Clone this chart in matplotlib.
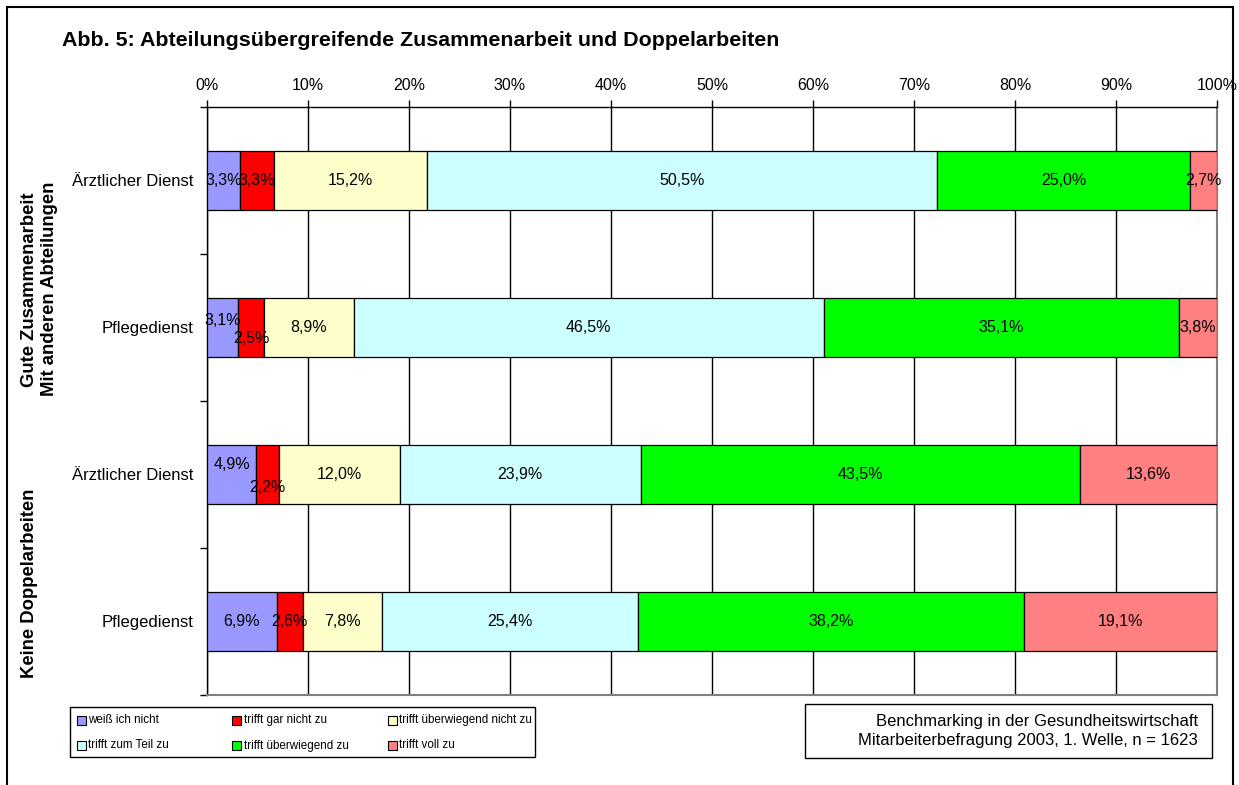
import matplotlib.pyplot as plt
from matplotlib.patches import Rectangle
from matplotlib.transforms import blended_transform_factory
import numpy as np

plt.rcParams['font.family'] = ['Liberation Sans', 'DejaVu Sans']

rows = ['Ärztlicher Dienst', 'Pflegedienst', 'Ärztlicher Dienst', 'Pflegedienst']
groups = ['Gute Zusammenarbeit\nMit anderen Abteilungen', 'Keine Doppelarbeiten']
answers = ['weiß ich nicht', 'trifft gar nicht zu', 'trifft überwiegend nicht zu',
           'trifft zum Teil zu', 'trifft überwiegend zu', 'trifft voll zu']
colors = ['#9999FF', '#FF0000', '#FFFFCC', '#CCFFFF', '#00FF00', '#FF8080']

# percent per row, one list per answer
weiss = [3.3, 3.1, 4.9, 6.9]
gar_nicht = [3.3, 2.5, 2.2, 2.6]
ueberw_nicht = [15.2, 8.9, 12.0, 7.8]
zum_teil = [50.5, 46.5, 23.9, 25.4]
ueberw_zu = [25.0, 35.1, 43.5, 38.2]
voll = [2.7, 3.8, 13.6, 19.1]

values = np.array([weiss, gar_nicht, ueberw_nicht, zum_teil, ueberw_zu, voll])
shares = values / values.sum(axis=0) * 100  # 100% stacked like excel

# vertical nudges (points) for labels that would collide
label_nudge = {(0, 1): 5, (1, 1): -8, (0, 2): 7, (1, 2): -9}

fig = plt.figure(figsize=(12.39, 7.85), dpi=100)
W, H = 1239, 785

def fx(px):
    return px / W

def fy(py):
    return 1 - py / H

ax = fig.add_axes([fx(207), fy(695), fx(1217) - fx(207), fy(107) - fy(695)])

y = np.arange(len(rows))
left = np.zeros(len(rows))
for i in range(len(answers)):
    ax.barh(y, shares[i], left=left, height=0.4, color=colors[i],
            edgecolor='black', linewidth=0.9, label=answers[i], zorder=3)
    for j in range(len(rows)):
        dy = label_nudge.get((i, j), 0)
        ax.annotate(f"{values[i, j]:.1f}%".replace('.', ','),
                    (left[j] + shares[i, j] / 2, y[j]), xytext=(0, dy),
                    textcoords='offset points', ha='center', va='center',
                    fontsize=11.5, zorder=4)
    left += shares[i]

ax.set_xlim(0, 100)
ax.set_ylim(3.5, -0.5)
ax.set_xticks(np.arange(0, 101, 10))
ax.set_xticklabels([f"{v}%" for v in range(0, 101, 10)], fontsize=11.5)
ax.xaxis.tick_top()
ax.tick_params(axis='x', direction='out', length=5, width=1, pad=5)
ax.grid(axis='x', color='black', linewidth=1, zorder=0)

ax.set_yticks(y)
ax.set_yticklabels(rows, fontsize=12)
ax.set_yticks(np.arange(-0.5, 4, 1), minor=True)
ax.tick_params(axis='y', which='major', length=0, pad=10)
ax.tick_params(axis='y', which='minor', length=5, width=1)

for s in ['top', 'left']:
    ax.spines[s].set_color('black')
    ax.spines[s].set_linewidth(1)
for s in ['right', 'bottom']:
    ax.spines[s].set_color('#808080')
    ax.spines[s].set_linewidth(1.5)

# group labels
grp_tr = blended_transform_factory(fig.transFigure, ax.transData)
for k, g in enumerate(groups):
    ax.text(fx(21), 0.74 + 2 * k, g, transform=grp_tr,
            rotation=90, ha='left', va='center', multialignment='center',
            fontsize=13.3, fontweight='bold')

fig.text(fx(62), fy(40), 'Abb. 5: Abteilungsübergreifende Zusammenarbeit und Doppelarbeiten',
         fontsize=15.4, fontweight='bold', ha='left', va='center')

# legend drawn like excel: 3 equal columns, filled row-wise
fig.patches.append(Rectangle((fx(70), fy(757)), fx(535) - fx(70), fy(707) - fy(757),
                             transform=fig.transFigure, fill=False, edgecolor='black', linewidth=1))
for i, (name, c) in enumerate(zip(answers, colors)):
    col, row = i % 3, i // 3
    x0 = 77 + col * 155.5
    yc = 720 + row * 25.5
    fig.patches.append(Rectangle((fx(x0), fy(yc + 4.5)), fx(9), 9 / H,
                                 transform=fig.transFigure, facecolor=c,
                                 edgecolor='black', linewidth=0.8))
    fig.text(fx(x0 + 11), fy(yc), name, ha='left', va='center', fontsize=8.4)

# source box
fig.patches.append(Rectangle((fx(805), fy(758)), fx(1212) - fx(805), fy(704) - fy(758),
                             transform=fig.transFigure, fill=False, edgecolor='black', linewidth=1))
fig.text(fx(1198), fy(731), 'Benchmarking in der Gesundheitswirtschaft\nMitarbeiterbefragung 2003, 1. Welle, n = 1623',
         ha='right', va='center', multialignment='right', fontsize=12, linespacing=1.3)

# outer frame
fig.patches.append(Rectangle((fx(7), fy(800)), fx(1233) - fx(7), fy(7) - fy(800),
                             transform=fig.transFigure, fill=False, edgecolor='black', linewidth=1.5))

fig.savefig('out.png', dpi=100)
